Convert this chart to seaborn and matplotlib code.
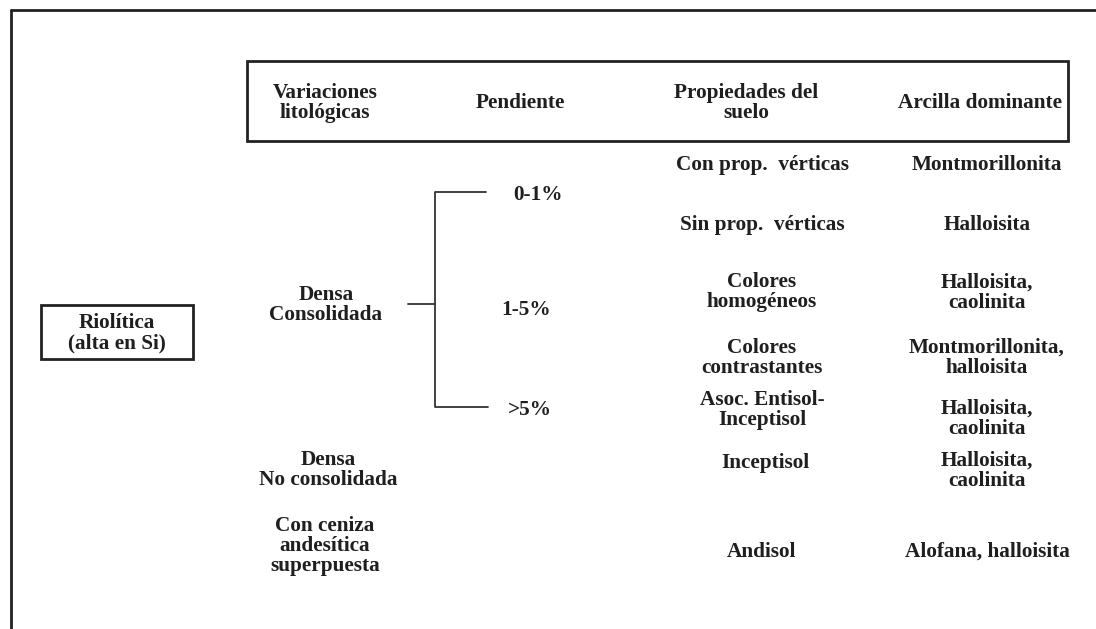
import matplotlib.pyplot as plt
import seaborn as sns
from matplotlib.patches import Rectangle

# column headers
headers = ["Variaciones\nlitológicas", "Pendiente", "Propiedades del\nsuelo", "Arcilla dominante"]
header_x = [325, 520, 746, 980]

# lithological variations
litho = ["Densa\nConsolidada", "Densa\nNo consolidada", "Con ceniza\nandesítica\nsuperpuesta"]
litho_x = [326, 328, 325]
litho_y = [305, 470, 546]

# slopes
slopes = ["0-1%", "1-5%", ">5%"]
slope_x = [538, 526, 530]
slope_y = [195, 310, 410]

# soil properties and dominant clay, one entry per row
props = ["Con prop.  vérticas", "Sin prop.  vérticas", "Colores\nhomogéneos",
         "Colores\ncontrastantes", "Asoc. Entisol-\nInceptisol", "Inceptisol", "Andisol"]
props_x = [762, 762, 762, 762, 762, 765, 762]
props_y = [165, 225, 292, 358, 410, 463, 552]
clays = ["Montmorillonita", "Halloisita", "Halloisita,\ncaolinita",
         "Montmorillonita,\nhalloisita", "Halloisita,\ncaolinita",
         "Halloisita,\ncaolinita", "Alofana, halloisita"]
clays_y = [165, 225, 293, 358, 419, 471, 552]

sns.set_theme(style="white")
plt.rcParams['font.family'] = ['Liberation Serif', 'DejaVu Serif']

fig = plt.figure(figsize=(10.96, 6.29), dpi=100)
ax = fig.add_axes([0, 0, 1, 1])
ax.set_xlim(0, 1096)
ax.set_ylim(629, 0)
ax.axis('off')

line_kw = dict(color="#222222", linewidth=2)
txt_kw = dict(ha="center", va="center", fontsize=15.3, fontweight="bold",
              color="#1f1f1f", linespacing=1.0)

# outer frame (top and left only)
ax.plot([11, 1096], [10, 10], **line_kw)
ax.plot([11, 11], [10, 629], **line_kw)

# header box
ax.add_patch(Rectangle((247, 61), 821, 80, fill=False, edgecolor="#222222", linewidth=2))
for h, x in zip(headers, header_x):
    ax.text(x, 103, h, **txt_kw)

# rock type box
ax.add_patch(Rectangle((41, 305), 152, 54, fill=False, edgecolor="#222222", linewidth=2))
ax.text(117, 333, "Riolítica\n(alta en Si)", **txt_kw)

# bracket to slopes
ax.plot([408, 435, 435, 486], [304, 304, 192, 192], color="#333333", linewidth=1.3)
ax.plot([435, 435, 488], [304, 407, 407], color="#333333", linewidth=1.3)

for t, x, y in zip(litho, litho_x, litho_y):
    ax.text(x, y, t, **txt_kw)
for t, x, y in zip(slopes, slope_x, slope_y):
    ax.text(x, y, t, **txt_kw)
for t, x, y in zip(props, props_x, props_y):
    ax.text(x, y, t, **txt_kw)
for t, y in zip(clays, clays_y):
    ax.text(987, y, t, **txt_kw)

fig.savefig("out.png", dpi=100)
